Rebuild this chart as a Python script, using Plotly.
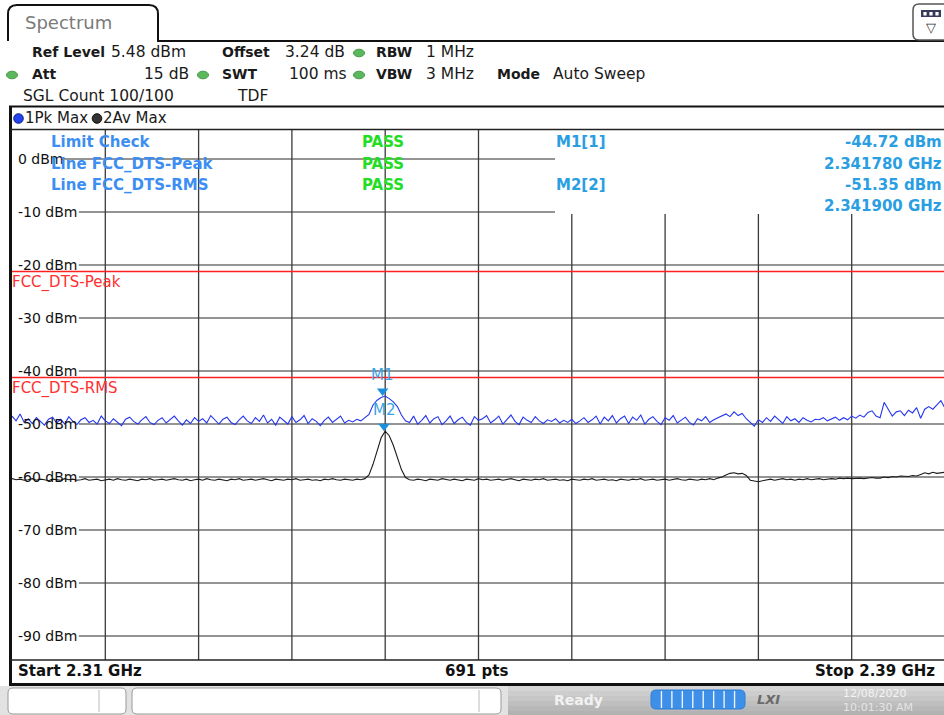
import numpy as np
import plotly.graph_objects as go

W, H = 944, 715
FONT = "DejaVu Sans"

# ---------------- data ----------------
start_ghz = 2.31
stop_ghz = 2.39
sweep_points = 691
ref_level_dbm = 5.48
span_db = 100.0

# Trace 1: Pk Max (every 3rd sweep point, dBm)
pk_max_dbm = [
    -48.5, -49.4, -48.1, -49.7, -49.0, -49.9, -48.8, -49.5, -50.2, -49.1,
    -48.7, -49.8, -49.1, -50.0, -48.6, -49.5, -50.1, -49.2, -48.8, -49.7,
    -49.3, -50.0, -48.5, -49.4, -49.9, -49.0, -49.7, -50.3, -49.1, -48.7,
    -49.5, -50.0, -49.2, -48.6, -49.7, -50.1, -49.3, -48.8, -49.8, -49.1,
    -48.5, -49.4, -50.2, -49.2, -49.9, -48.8, -49.5, -49.0, -49.8, -48.4,
    -49.3, -50.0, -49.1, -48.7, -49.7, -50.1, -49.2, -48.5, -49.4, -49.9,
    -48.8, -49.5, -48.3, -49.8, -49.1, -50.2, -48.7, -49.4, -50.0, -48.6,
    -49.7, -49.2, -48.4, -49.9, -49.0, -49.5, -50.3, -49.3, -48.7, -49.7,
    -49.1, -48.5, -49.8, -49.3, -49.6, -49.1, -49.4, -48.8, -48.2, -46.4,
    -45.5, -45.0, -44.72, -45.2, -45.8, -46.7, -48.3, -49.4, -49.7, -48.5,
    -50.0, -49.3, -48.4, -49.8, -49.0, -48.6, -50.1, -49.4, -48.5, -49.9,
    -49.2, -48.7, -49.7, -50.2, -48.6, -49.3, -49.0, -48.4, -49.8, -49.2,
    -48.5, -50.0, -49.1, -48.3, -49.5, -50.1, -48.7, -49.3, -49.7, -48.6,
    -49.4, -49.9, -49.2, -49.5, -49.0, -49.8, -49.3, -49.7, -49.1, -49.9,
    -49.4, -48.8, -49.7, -49.2, -48.5, -50.0, -48.7, -49.4, -48.4, -49.8,
    -49.0, -48.5, -49.9, -48.7, -49.3, -48.3, -50.0, -49.1, -48.6, -49.5,
    -50.1, -48.8, -49.3, -48.4, -49.8, -49.2, -48.7, -49.7, -50.2, -49.0,
    -49.4, -48.6, -49.7, -49.2, -48.8, -48.5, -48.1, -48.6, -47.7, -48.4,
    -48.0, -49.0, -49.8, -50.4, -49.2, -49.7, -48.8, -49.5, -48.5, -49.3,
    -49.9, -48.6, -49.4, -49.0, -49.7, -48.8, -49.3, -49.6, -49.1, -49.2,
    -48.8, -49.4, -49.0, -48.7, -49.3, -48.8, -49.2, -48.5, -48.9, -48.3,
    -48.7, -47.8, -47.5, -48.5, -48.8, -45.9, -47.2, -48.5, -47.7, -47.5,
    -48.4, -47.4, -47.9, -46.9, -48.9, -47.2, -46.7, -47.2, -46.4, -45.6,
    -47.0,
]

# Trace 2: Av Max (same sweep points, dBm)
av_max_dbm = [
    -60.3, -60.5, -60.4, -60.6, -60.5, -60.3, -60.6, -60.4, -60.5, -60.7,
    -60.4, -60.5, -60.6, -60.3, -60.5, -60.4, -60.6, -60.5, -60.3, -60.6,
    -60.5, -60.4, -60.7, -60.5, -60.4, -60.6, -60.3, -60.5, -60.6, -60.4,
    -60.5, -60.7, -60.4, -60.5, -60.3, -60.6, -60.5, -60.4, -60.6, -60.5,
    -60.3, -60.5, -60.6, -60.4, -60.7, -60.5, -60.4, -60.6, -60.3, -60.5,
    -60.6, -60.4, -60.5, -60.7, -60.4, -60.5, -60.3, -60.6, -60.5, -60.4,
    -60.6, -60.5, -60.3, -60.5, -60.7, -60.4, -60.5, -60.6, -60.4, -60.5,
    -60.3, -60.6, -60.5, -60.4, -60.6, -60.5, -60.7, -60.4, -60.5, -60.3,
    -60.5, -60.6, -60.4, -60.5, -60.6, -60.4, -60.5, -60.3, -59.6, -57.6,
    -55.0, -52.6, -51.35, -52.2, -54.0, -56.2, -58.6, -60.1, -60.5, -60.6,
    -60.4, -60.5, -60.7, -60.4, -60.5, -60.6, -60.3, -60.5, -60.6, -60.4,
    -60.5, -60.7, -60.4, -60.5, -60.6, -60.3, -60.5, -60.4, -60.6, -60.5,
    -60.4, -60.6, -60.5, -60.3, -60.5, -60.7, -60.4, -60.5, -60.6, -60.4,
    -60.5, -60.3, -60.6, -60.5, -60.4, -60.6, -60.5, -60.7, -60.4, -60.5,
    -60.6, -60.4, -60.5, -60.3, -60.6, -60.5, -60.4, -60.6, -60.5, -60.7,
    -60.4, -60.5, -60.6, -60.4, -60.5, -60.3, -60.6, -60.5, -60.4, -60.6,
    -60.5, -60.4, -60.6, -60.5, -60.3, -60.5, -60.6, -60.4, -60.5, -60.6,
    -60.4, -60.5, -60.3, -60.5, -60.2, -60.0, -59.6, -59.3, -59.2, -59.4,
    -59.3, -59.7, -60.6, -60.8, -60.9, -60.7, -60.5, -60.4, -60.6, -60.5,
    -60.3, -60.5, -60.4, -60.6, -60.4, -60.5, -60.3, -60.5, -60.4, -60.3,
    -60.5, -60.4, -60.3, -60.4, -60.2, -60.3, -60.2, -60.3, -60.2, -60.2,
    -60.3, -60.2, -60.1, -60.2, -60.2, -60.0, -60.1, -59.9, -60.0, -59.8,
    -59.8, -59.9, -59.7, -59.8, -59.5, -59.2, -59.4, -59.1, -59.3, -59.2,
    -59.1,
]

freq_ghz = np.linspace(start_ghz, stop_ghz, len(pk_max_dbm))

grid_dbm = [0, -10, -20, -30, -40, -50, -60, -70, -80, -90]
grid_labels = ["0 dBm", "-10 dBm", "-20 dBm", "-30 dBm", "-40 dBm",
               "-50 dBm", "-60 dBm", "-70 dBm", "-80 dBm", "-90 dBm"]

limit_names = ["FCC_DTS-Peak", "FCC_DTS-RMS"]
limit_dbm = [-21.2, -41.2]

check_rows = ["Limit Check", "Line FCC_DTS-Peak", "Line FCC_DTS-RMS"]
check_results = ["PASS", "PASS", "PASS"]

marker_names = ["M1", "M2"]
marker_trace = [1, 2]
marker_ghz = [2.341780, 2.341900]
marker_dbm = [-44.72, -51.35]

# ---------------- geometry helpers (pixels -> paper) ----------------
PX0, PX1 = 12, 945      # plot area left/right edge (px)
PY0, PY1 = 130, 660     # plot area top/bottom (px)
px_per_db = (PY1 - PY0) / span_db
x_right = start_ghz + (stop_ghz - start_ghz) * (W - PX0) / (PX1 - PX0)


def X(x):
    return x / W


def Y(y):
    return 1 - y / H


shapes = []
anns = []


def pline(x0, y0, x1, y1, color="#000", width=1, layer="above"):
    shapes.append(dict(type="line", xref="paper", yref="paper",
                       x0=X(x0), y0=Y(y0), x1=X(x1), y1=Y(y1),
                       line=dict(color=color, width=width), layer=layer))


def prect(x0, y0, x1, y1, fill, color=None, width=0, layer="above"):
    shapes.append(dict(type="rect", xref="paper", yref="paper",
                       x0=X(x0), y0=Y(y0), x1=X(x1), y1=Y(y1),
                       fillcolor=fill,
                       line=dict(color=color or fill, width=width), layer=layer))


def pcircle(cx, cy, rx, ry, fill, edge=None):
    shapes.append(dict(type="circle", xref="paper", yref="paper",
                       x0=X(cx - rx), y0=Y(cy - ry), x1=X(cx + rx), y1=Y(cy + ry),
                       fillcolor=fill, line=dict(color=edge or fill, width=1)))


def ppath(cmds, color="#000", width=1, fill=None):
    parts = []
    for c in cmds:
        op, pts = c[0], c[1:]
        coords = []
        for i in range(0, len(pts), 2):
            coords.append(f"{X(pts[i]):.6f},{Y(pts[i + 1]):.6f}")
        parts.append(op + " " + " ".join(coords))
    d = dict(type="path", xref="paper", yref="paper", path=" ".join(parts),
             line=dict(color=color, width=width))
    if fill:
        d["fillcolor"] = fill
    shapes.append(d)


def rrect(x0, y0, x1, y1, r, color="#000", width=1, fill=None):
    ppath([("M", x0 + r, y0), ("L", x1 - r, y0), ("Q", x1, y0, x1, y0 + r),
           ("L", x1, y1 - r), ("Q", x1, y1, x1 - r, y1), ("L", x0 + r, y1),
           ("Q", x0, y1, x0, y1 - r), ("L", x0, y0 + r), ("Q", x0, y0, x0 + r, y0),
           ("Z",)], color=color, width=width, fill=fill)


def txt(x, y, s, size=15.5, color="#1a1a1a", bold=False, xanchor="left",
        family=FONT, italic=False):
    t = s
    if bold:
        t = f"<b>{t}</b>"
    if italic:
        t = f"<i>{t}</i>"
    anns.append(dict(x=X(x), y=Y(y), xref="paper", yref="paper", text=t,
                     showarrow=False, xanchor=xanchor, yanchor="middle",
                     borderpad=0, font=dict(family=family, size=size, color=color)))


# ---------------- figure ----------------
fig = go.Figure()

fig.add_trace(go.Scatter(x=freq_ghz, y=pk_max_dbm, mode="lines",
                         line=dict(color="#2436f0", width=1.1), hoverinfo="skip"))
fig.add_trace(go.Scatter(x=freq_ghz, y=av_max_dbm, mode="lines",
                         line=dict(color="#1c1c1c", width=1.1), hoverinfo="skip"))

# marker triangles, tip on the trace point
tri_off = 5 / px_per_db
fig.add_trace(go.Scatter(x=marker_ghz, y=[v + tri_off for v in marker_dbm],
                         mode="markers",
                         marker=dict(symbol="triangle-down", size=10, color="#1a90dc",
                                     line=dict(width=0)), hoverinfo="skip"))
for name, f, v in zip(marker_names, marker_ghz, marker_dbm):
    anns.append(dict(x=f, y=v, xref="x", yref="y", text=name, showarrow=False,
                     xanchor="center", yanchor="middle", yshift=21,
                     font=dict(family=FONT, size=15, color="#3aa2e6")))

# grid: horizontal
for lvl, lab in zip(grid_dbm, grid_labels):
    xs = 19 + 8.55 * len(lab)
    xe = 555 if lvl > -15 else W
    shapes.append(dict(type="line", xref="paper", yref="y",
                       x0=X(xs), x1=X(xe), y0=lvl, y1=lvl,
                       line=dict(color="#2a2a2a", width=1.1), layer="below"))
    anns.append(dict(x=X(17), y=lvl, xref="paper", yref="y", text=lab,
                     showarrow=False, xanchor="left", yanchor="middle", borderpad=0,
                     font=dict(family=FONT, size=14, color="#111")))

# grid: vertical (10 divisions)
top_cut_y = Y(214)
for k in range(1, 10):
    f = start_ghz + k * (stop_ghz - start_ghz) / 10
    ytop = Y(PY0) if k <= 5 else top_cut_y
    shapes.append(dict(type="line", xref="x", yref="paper", x0=f, x1=f,
                       y0=Y(PY1), y1=ytop,
                       line=dict(color="#3a3a3a", width=1.3), layer="below"))

# limit lines
for name, lvl in zip(limit_names, limit_dbm):
    shapes.append(dict(type="line", xref="paper", yref="y", x0=X(PX0), x1=1,
                       y0=lvl, y1=lvl, line=dict(color="#ff2020", width=1.5),
                       layer="above"))
    anns.append(dict(x=X(11), y=lvl, xref="paper", yref="y", text=name,
                     showarrow=False, xanchor="left", yanchor="middle", yshift=-11,
                     borderpad=0, font=dict(family=FONT, size=15, color="#ff3030")))

# limit check table (left, transparent)
for i, (row, res) in enumerate(zip(check_rows, check_results)):
    yy = 142 + i * 21.5
    txt(50, yy, row, size=15, color="#3d8ef2", bold=True)
    txt(361, yy, res, size=15, color="#22dd22", bold=True)

# marker table (right)
mt_y = [142, 163.5, 185, 206]
for i, (name, tr, f, v) in enumerate(zip(marker_names, marker_trace, marker_ghz, marker_dbm)):
    txt(555, mt_y[2 * i], f"{name}[{tr}]", size=15, color="#2a9ee2", bold=True)
    txt(943, mt_y[2 * i], f"{v:.2f} dBm", size=15, color="#2a9ee2", bold=True, xanchor="right")
    txt(943, mt_y[2 * i + 1], f"{f:.6f} GHz", size=15, color="#2a9ee2", bold=True, xanchor="right")

# ---------------- chrome ----------------
# tab
ppath([("M", 8, 41), ("L", 8, 14), ("Q", 8, 5, 17, 5), ("L", 149, 5),
       ("Q", 158, 5, 158, 14), ("L", 158, 41), ("L", 944, 41)], color="#111", width=2)
txt(24, 23, "Spectrum", size=18, color="#7a7a7a")
# top-right icon
rrect(913, 4, 950, 40, 6, color="#555", width=1.5, fill="#ffffff")
prect(921, 10, 941, 17, "#3a3a5a")
for cx in (925, 931, 937):
    prect(cx - 1.6, 12, cx + 1.6, 15.5, "#ffffff")
anns.append(dict(x=X(931), y=Y(28), xref="paper", yref="paper", text="▽",
                 showarrow=False, xanchor="center", yanchor="middle",
                 font=dict(family=FONT, size=13, color="#333")))

# header rows
HB = 14
txt(31, 52, "Ref Level", size=HB, bold=True)
txt(110, 52, f"{ref_level_dbm:.2f} dBm")
txt(221, 52, "Offset", size=HB, bold=True)
txt(284, 52, "3.24 dB")
pcircle(359, 53, 5.5, 3.8, "#5cb85c", "#4a9a4a")
txt(375, 52, "RBW", size=HB, bold=True)
txt(425, 52, "1 MHz")

pcircle(12, 75, 5.5, 3.8, "#5cb85c", "#4a9a4a")
txt(31, 74, "Att", size=HB, bold=True)
txt(190, 74, "15 dB", xanchor="right")
pcircle(203, 75, 5.5, 3.8, "#5cb85c", "#4a9a4a")
txt(221, 74, "SWT", size=HB, bold=True)
txt(288, 74, "100 ms")
pcircle(359, 75, 5.5, 3.8, "#5cb85c", "#4a9a4a")
txt(375, 74, "VBW", size=HB, bold=True)
txt(425, 74, "3 MHz")
txt(496, 74, "Mode", size=HB, bold=True)
txt(552, 74, "Auto Sweep")

txt(22, 96, "SGL Count 100/100")
txt(236, 96, "TDF")

# frame lines
pline(9, 106.5, W, 106.5, "#111", 2.2)
pline(10.5, 106, 10.5, 686, "#111", 3)
pline(10, 129.5, W, 129.5, "#222", 1.6)
pline(10, 660, W, 660, "#222", 1.6)
pline(9, 684.5, W, 684.5, "#111", 3)

# legend row
pcircle(18.5, 118.5, 4.8, 4.8, "#2244ee", "#102080")
txt(24, 118, "1Pk Max", size=15)
pcircle(97, 118.5, 4.8, 4.8, "#333333", "#111111")
txt(102, 118, "2Av Max", size=15)

# footer
txt(17, 671, "Start 2.31 GHz", size=15, color="#111", bold=True)
txt(476, 671, f"{sweep_points} pts", size=15, color="#111", bold=True, xanchor="center")
txt(936, 671, "Stop 2.39 GHz", size=15, color="#111", bold=True, xanchor="right")

# status bar
prect(0, 686, W, H, "#e2e2e2")
bands = ["#d4d4d4", "#cdcdcd", "#c6c6c6", "#bfbfbf", "#b8b8b8", "#b2b2b2"]
for i, c in enumerate(bands):
    prect(508, 686 + i * 5, W, 686 + (i + 1) * 5 + 0.5, c)
rrect(8, 688, 126, 714, 5, color="#9a9a9a", width=1, fill="#ffffff")
pline(99, 690, 99, 712, "#bbbbbb", 1)
rrect(132, 688, 501, 714, 5, color="#9a9a9a", width=1, fill="#ffffff")
pline(479, 690, 479, 712, "#bbbbbb", 1)
txt(553, 700, "Ready", size=14, color="#f2f2f2", bold=True)
rrect(651, 690, 745, 709, 5, color="#2f7fd8", width=1, fill="#3d8fe8")
for k in range(1, 9):
    xx = 651 + k * 94 / 9
    pline(xx, 691, xx, 708, "#eaf3ff", 1.4)
txt(756, 699, "LXI", size=13, color="#6a6a6a", bold=True, italic=True)
txt(842, 693, "12/08/2020", size=11, color="#f4f4f4")
txt(842, 707, "10:01:30 AM", size=11, color="#e4e4e4")

fig.update_layout(
    width=W, height=H, autosize=False,
    margin=dict(l=0, r=0, t=0, b=0, pad=0),
    paper_bgcolor="#ffffff", plot_bgcolor="#ffffff",
    showlegend=False,
    xaxis=dict(domain=[X(PX0), 1], range=[start_ghz, x_right], visible=False,
               showgrid=False, zeroline=False, fixedrange=True),
    yaxis=dict(domain=[Y(PY1), Y(PY0)],
               range=[ref_level_dbm - span_db, ref_level_dbm], visible=False,
               showgrid=False, zeroline=False, fixedrange=True),
    shapes=shapes, annotations=anns,
)

fig.write_html(
    "out.html",
    config={"displayModeBar": False},
    post_script="document.body.style.margin='0';document.body.style.overflow='hidden';",
)
